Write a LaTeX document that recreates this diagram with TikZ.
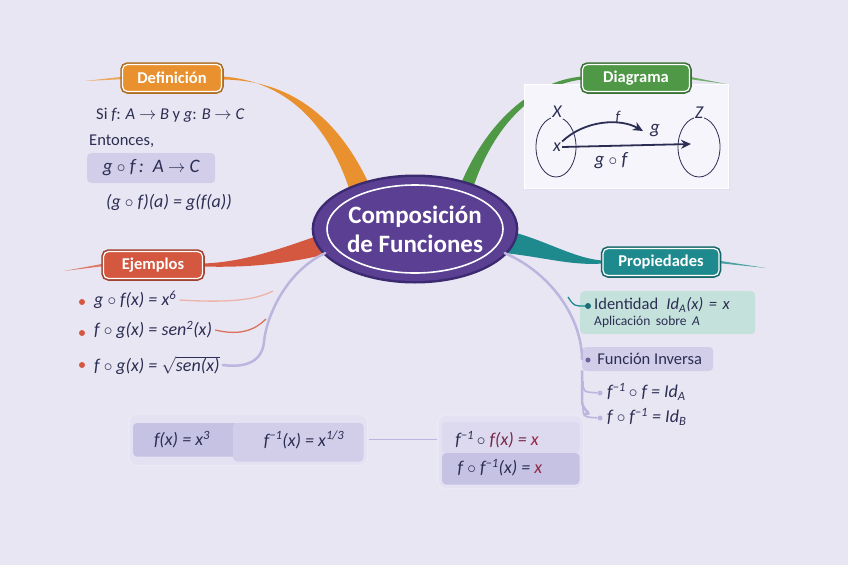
\documentclass[tikz,border=0pt]{standalone}
\usepackage{fontspec}
\setmainfont{Carlito}
\usetikzlibrary{positioning}
\usetikzlibrary{shapes.geometric, arrows.meta, calc, backgrounds}
\definecolor{fondo}{RGB}{233,230,243}
\definecolor{morado}{RGB}{91,63,147}
\definecolor{moradoosc}{RGB}{60,42,112}
\definecolor{naranja}{RGB}{232,145,46}
\definecolor{verde}{RGB}{78,152,70}
\definecolor{turquesa}{RGB}{30,138,142}
\definecolor{rojo}{RGB}{212,88,64}
\definecolor{lila}{RGB}{186,182,222}
\definecolor{lilacaja}{RGB}{210,206,234}
\definecolor{lilaosc}{RGB}{198,194,228}
\definecolor{menta}{RGB}{196,225,220}
\definecolor{tinta}{RGB}{43,45,82}
\definecolor{vino}{RGB}{150,36,66}
\definecolor{blanco}{RGB}{246,245,251}

\begin{document}
\begin{tikzpicture}[x=1pt, y=-1pt,
    rama/.style={fill=#1, draw=white, line width=1.2pt, rounded corners=5pt,
        preaction={draw=#1!75!black, line width=4.5pt},
        text=white, font=\bfseries\fontsize{16.5}{16.5}\selectfont,
        minimum height=27pt, inner xsep=10pt},
    texto/.style={text=tinta, font=\fontsize{16.5}{18}\selectfont, inner sep=1pt},
    caja/.style={rounded corners=4pt, text=tinta, font=\fontsize{16.5}{18}\selectfont},
    punto/.style={circle, fill=#1, inner sep=0pt, minimum size=6pt},
    conector/.style={draw=lila, line width=2.5pt, line cap=round},
    flecha/.style={draw=tinta, line width=1.8pt, -{Stealth[length=10pt, width=9pt]}},
    marco/.style={fill=blanco!50!lilacaja, draw=white!70!lila, line width=1.5pt, rounded corners=9pt},
    formula/.style={texto, font=\itshape\fontsize{18}{20}\selectfont}]

    % nodo central
    \node[ellipse, fill=morado, minimum width=192pt, minimum height=104pt,
          preaction={draw=moradoosc, line width=5pt}, text=white, align=center,
          font=\bfseries\fontsize{25}{29}\selectfont] (centro) at (415,229) {Composición\\de Funciones};
    \draw[white, line width=1.6pt] (centro.center) ellipse [x radius=88, y radius=44];

    % ramas
    \node[rama=naranja, minimum width=99pt] (def) at (172,78) {Definición};
    \node[fill=blanco, draw=white, minimum width=204pt, minimum height=104pt,
          preaction={fill=lila!45, transform canvas={xshift=1.5pt, yshift=-2pt}}] (dbox) at (626,136) {};
    \node[rama=verde, minimum width=107pt] (diag) at (636,78) {Diagrama};
    \node[rama=turquesa, minimum width=116pt] (prop) at (661,262) {Propiedades};
    \node[rama=rojo, minimum width=99pt] (ejem) at (153,265) {Ejemplos};

    % Definición
    \node[texto, anchor=west] (si) at (95,115) {Si {\itshape f}: {\itshape A} $\to$ {\itshape B} y {\itshape g}: {\itshape B} $\to$ {\itshape C}};
    \node[texto, anchor=west] (ent) at (88,141) {Entonces,};
    \node[caja, fill=lilacaja, anchor=west, minimum width=128pt, minimum height=30pt,
          font=\itshape\fontsize{19}{21}\selectfont] (gof) at (87,168) {g $\circ$ f\,:\, A $\to$ C};
    \node[formula] (gofa) at (169,202) {(g $\circ$ f)(a) = g(f(a))};

    % Diagrama
    \node[ellipse, draw=tinta, line width=0.8pt, minimum width=40pt, minimum height=60pt] (ovx) at (556,147) {};
    \node[ellipse, draw=tinta, line width=0.8pt, minimum width=42pt, minimum height=60pt] (ovz) at (699,147) {};
    \node[texto, fill=blanco, font=\itshape\fontsize{18}{18}\selectfont] (lx) at (557,112) {X};
    \node[texto, fill=blanco, font=\itshape\fontsize{18}{18}\selectfont] (lz) at (699,113) {Z};
    \node[texto, font=\itshape\fontsize{18}{18}\selectfont] (px) at (557,147) {x};
    \node[texto, font=\itshape\fontsize{15}{15}\selectfont] (lf) at (618,117) {f};
    \node[texto, font=\itshape\fontsize{19}{19}\selectfont] (lg) at (655,131) {g};
    \node[texto, font=\itshape\fontsize{19}{19}\selectfont] (lgf) at (611,161) {g $\circ$ f};
    \coordinate (fpunta) at (643,131);
    \coordinate (gpunta) at (691,144);
    \draw[flecha] (px.north east) .. controls (585,120) and (620,118) .. (fpunta);
    \draw[flecha] (px.east) -- (gpunta);

    % Propiedades
    \node[caja, fill=menta, anchor=north west, text width=147pt, inner xsep=14pt, inner ysep=5pt,
          align=left, minimum height=43pt] (iden) at (580,291)
          {Identidad\enspace{\itshape Id\textsubscript{A}(x) = x}\\[-2pt]{\fontsize{13.5}{15}\selectfont Aplicación sobre {\itshape A}}};
    \node[punto=turquesa!80!black] (pi) at (588,306) {};
    \node[caja, fill=lilacaja, anchor=west, minimum width=131pt, minimum height=24pt] (inv) at (582,359) {\hspace{4pt}Función Inversa};
    \node[punto=moradoosc!60!lila, minimum size=5pt] (pinv) at (588,360) {};
    \node[formula, anchor=west] (fia) at (606,392) {f\textsuperscript{−1}\,$\circ$ f = Id\textsubscript{A}};
    \node[formula, anchor=west] (fib) at (606,417) {f $\circ$ f\textsuperscript{−1} = Id\textsubscript{B}};
    \node[punto=lila, minimum size=5pt] (pa) at (600,393) {};
    \node[punto=lila, minimum size=5pt] (pb) at (600,418) {};

    % Ejemplos
    \node[punto=rojo] (d1) at (82,302) {};
    \node[punto=rojo] (d2) at (82,333) {};
    \node[punto=rojo] (d3) at (82,365) {};
    \node[formula, anchor=west, inner sep=0pt] (ej1) at (94,300) {g $\circ$ f(x) = x\textsuperscript{6}};
    \node[formula, anchor=west, inner sep=0pt] (ej2) at (94,330) {f $\circ$ g(x) = sen\textsuperscript{2}(x)};
    \node[formula, anchor=west, inner sep=0pt] (ej3) at (94,365) {f $\circ$ g(x) = $\sqrt{\hbox{\itshape sen(x)}}$};

    % cajas de abajo
    \node[marco, anchor=north west, minimum width=239pt, minimum height=52pt] (mizq) at (128,413) {};
    \fill[lilaosc, rounded corners=4pt] ($(mizq.north west)+(5,10)$) rectangle ($(mizq.south west)+(110,-10)$);
    \fill[lilacaja, rounded corners=4pt] ($(mizq.north west)+(105,10)$) rectangle ($(mizq.south east)+(-5,-5)$);
    \node[formula] (fx) at (182,440) {f(x) = x\textsuperscript{3}};
    \node[formula] (finv) at (304,440) {f\textsuperscript{−1}(x) = x\textsuperscript{1/3}};
    \node[marco, anchor=north west, minimum width=146pt, minimum height=74pt] (mder) at (437,414) {};
    \fill[lilacaja!70!blanco, rounded corners=4pt] ($(mder.north west)+(5,8)$) rectangle ($(mder.north east)+(-5,39)$);
    \fill[lilaosc, rounded corners=4pt] ($(mder.north west)+(5,39)$) rectangle ($(mder.south east)+(-5,-5)$);
    \node[formula] (fif) at (497,440) {f\textsuperscript{−1}\,$\circ$ {\color{vino!70!tinta}f(x) =} {\color{vino}x}};
    \node[formula] (ffi) at (500,468) {f $\circ$ f\textsuperscript{−1}(x) = {\color{vino}x}};

    % conectores
    \coordinate (c1) at (273,291);
    \coordinate (c2) at (266,319);
    \coordinate (ci) at (568,297);
    \coordinate (r1) at (583,381);
    \coordinate (r2) at (583,405);
    \draw[conector] (centro.195) .. controls (285,272) and (266,318) .. (264,342) .. controls (262,362) and (245,368) .. ([xshift=3pt]ej3.east);
    \draw[rojo!45, line width=1.3pt] ([xshift=3pt]ej1.east) .. controls (230,303) and (255,300) .. (c1);
    \draw[rojo!85, line width=1.3pt] ([xshift=3pt]ej2.east) .. controls (240,336) and (255,330) .. (c2);
    \draw[conector] (centro.-15) .. controls (555,275) and (582,322) .. (inv.west);
    \draw[turquesa, line width=1.3pt] (ci) .. controls (574,306) .. (pi);
    \draw[conector] (inv.south west) -- ++(0,30) .. controls +(0,10) and +(10,0) .. (mder.north east);
    \draw[lila, line width=1.6pt] (r1) .. controls (583,392) .. (pa);
    \draw[lila, line width=1.6pt] (r2) .. controls (583,417) .. (pb);
    \draw[lila, line width=1.3pt] (mizq.east) -- (mizq.east -| mder.west);

    \begin{scope}[on background layer]
        \fill[fondo] (0,0) rectangle (848,565);
        % rama naranja
        \fill[naranja] (354,205) .. controls (334,130) and (290,81) .. ($(def.east)+(0,-1.5)$)
            -- ($(def.east)+(0,1.5)$) .. controls (298,80) and (346,126) .. (376,200) -- cycle;
        \fill[naranja!80] ($(def.west)+(0,-1.2)$) -- (85,81) -- ($(def.west)+(0,1.2)$) -- cycle;
        % rama verde
        \fill[verde] (453,205) .. controls (478,128) and (530,81) .. ($(diag.west)+(0,-1.5)$)
            -- ($(diag.west)+(0,1.5)$) .. controls (528,86) and (486,135) .. (468,205) -- cycle;
        \fill[verde!80] ($(diag.east)+(0,-1.2)$) -- (726,84) -- ($(diag.east)+(0,1.2)$) -- cycle;
        % rama turquesa
        \fill[turquesa] (495,228) .. controls (540,236) and (570,258) .. ($(prop.west)+(0,-1.5)$)
            -- ($(prop.west)+(0,1.5)$) .. controls (570,266) and (540,256) .. (495,252) -- cycle;
        \fill[turquesa!80] ($(prop.east)+(0,-1.2)$) -- (766,268) -- ($(prop.east)+(0,1.2)$) -- cycle;
        % rama roja
        \fill[rojo] (335,230) .. controls (292,244) and (250,262) .. ($(ejem.east)+(0,-1.5)$)
            -- ($(ejem.east)+(0,1.5)$) .. controls (252,268) and (292,263) .. (335,252) -- cycle;
        \fill[rojo!80] ($(ejem.west)+(0,-1.2)$) -- (64,271) -- ($(ejem.west)+(0,1.2)$) -- cycle;
    \end{scope}
\end{tikzpicture}
\end{document}
